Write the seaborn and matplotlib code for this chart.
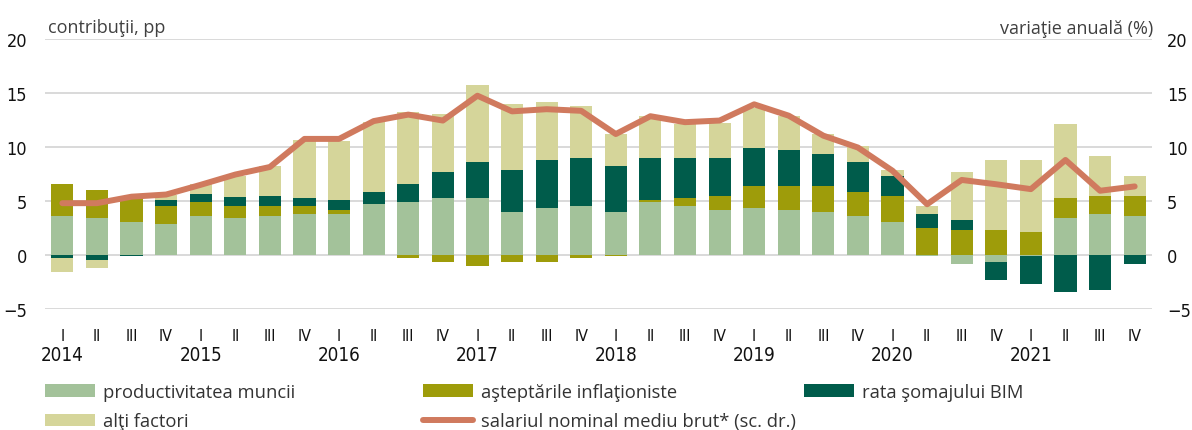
import numpy as np
import pandas as pd
import seaborn as sns
import matplotlib.pyplot as plt
from matplotlib import font_manager
from matplotlib.font_manager import FontProperties
from matplotlib.patches import Patch
from matplotlib.lines import Line2D

# quarterly data 2014 Q1 - 2021 Q4
years = ['2014', '2015', '2016', '2017', '2018', '2019', '2020', '2021']
quarters = ['I', 'II', 'III', 'IV']

productivitate = [3.6, 3.4, 3.05, 2.85, 3.6, 3.4, 3.6, 3.8, 3.8, 4.7, 4.9, 5.3, 5.3, 4.0, 4.35, 4.55,
                  4.0, 4.9, 4.55, 4.15, 4.35, 4.15, 4.0, 3.6, 3.05, -0.1, -0.85, -0.65, -0.1, 3.45, 3.8, 3.6]
inflatie = [2.95, 2.6, 2.2, 1.7, 1.3, 1.1, 0.95, 0.75, 0.35, 0.0, -0.3, -0.65, -1.0, -0.65, -0.65, -0.3,
            -0.1, 0.2, 0.75, 1.3, 2.05, 2.2, 2.4, 2.2, 2.4, 2.5, 2.3, 2.3, 2.15, 1.85, 1.65, 1.85]
somaj = [-0.3, -0.45, -0.1, 0.55, 0.75, 0.9, 0.9, 0.75, 0.9, 1.1, 1.65, 2.4, 3.35, 3.9, 4.45, 4.45,
         4.25, 3.9, 3.7, 3.5, 3.5, 3.35, 2.95, 2.8, 1.85, 1.3, 0.9, -1.65, -2.6, -3.45, -3.25, -0.85]
alti = [-1.3, -0.75, 0.0, 0.45, 0.9, 1.9, 2.8, 5.35, 5.55, 6.5, 6.7, 5.35, 7.05, 6.1, 5.35, 4.8,
        2.95, 3.9, 3.15, 3.3, 3.7, 3.15, 1.85, 1.5, 0.55, 0.75, 4.45, 6.5, 6.65, 6.85, 3.7, 1.85]
salariu = [4.8, 4.8, 5.4, 5.6, 6.5, 7.45, 8.15, 10.75, 10.75, 12.4, 13.0, 12.45, 14.75, 13.3, 13.5, 13.35,
           11.2, 12.85, 12.3, 12.45, 13.95, 12.9, 11.05, 9.95, 7.8, 4.7, 6.95, 6.55, 6.1, 8.8, 5.95, 6.35]

# look for a narrow face for the axis numbers, otherwise smaller DejaVu
narrow_file = None
for f in font_manager.fontManager.ttflist:
    tag = (f.name + ' ' + f.fname).lower()
    if (('condensed' in tag or 'narrow' in tag or f.stretch in ('condensed', 'semi-condensed'))
            and f.style == 'normal' and f.weight in (400, 'normal', 'regular')):
        narrow_file = f.fname
        break
if narrow_file:
    nfp = FontProperties(fname=narrow_file)
    tick_size, roman_size = 13, 11.5
else:
    nfp = FontProperties(family='DejaVu Sans')
    tick_size, roman_size = 12, 10

plt.rcParams['font.family'] = ['Open Sans', 'DejaVu Sans']

series = ['productivitatea muncii', 'aşteptările inflaţioniste', 'rata şomajului BIM', 'alţi factori']
colors = ['#a3c29a', '#9e9c0a', '#005c4b', '#d5d59a']
line_color = '#d07a5e'

labels = [f'{y} {q}' for y in years for q in quarters]
df = pd.DataFrame({'q': labels, series[0]: productivitate, series[1]: inflatie,
                   series[2]: somaj, series[3]: alti})

vals = df[series].to_numpy()
pos = np.cumsum(np.clip(vals, 0, None), axis=1)
neg = np.cumsum(np.clip(vals, None, 0), axis=1)

fig = plt.figure(figsize=(11.92, 4.31), dpi=100)
ax = fig.add_axes([0.0378, 0.2807, 0.9286, 0.6265])

# overlapping cumulative bars, outermost first
for i in range(3, -1, -1):
    sns.barplot(x=df['q'], y=pos[:, i], color=colors[i], width=0.64, linewidth=0,
                saturation=1, ax=ax, zorder=2)
    sns.barplot(x=df['q'], y=neg[:, i], color=colors[i], width=0.64, linewidth=0,
                saturation=1, ax=ax, zorder=2)

ax2 = ax.twinx()
sns.lineplot(x=np.arange(len(labels)), y=salariu, color=line_color, linewidth=4.3,
             solid_capstyle='round', solid_joinstyle='round', ax=ax2)

for a in (ax, ax2):
    a.set_ylim(-5, 20)
    a.set_yticks([-5, 0, 5, 10, 15, 20])
    a.set_xlim(-0.5, len(labels) - 0.5)
    a.set_ylabel('')
    a.set_xlabel('')
    for s in a.spines.values():
        s.set_visible(False)

ax.yaxis.grid(True, color='#d9d9d9', linewidth=1.4, zorder=0)
ax.set_axisbelow(True)
ax.tick_params(axis='y', length=0, pad=13, labelcolor='#111111')
ax2.tick_params(axis='y', length=0, pad=11, labelcolor='#111111')
for t in ax.get_yticklabels() + ax2.get_yticklabels():
    t.set_fontproperties(nfp)
    t.set_fontsize(tick_size)

ax.set_xticks(np.arange(len(labels)))
ax.set_xticklabels(quarters * len(years))
for t in ax.get_xticklabels():
    t.set_fontproperties(nfp)
    t.set_fontsize(roman_size)
ax.tick_params(axis='x', length=0, pad=14, labelcolor='#111111')

for k, y in enumerate(years):
    ax.text(k * 4, -0.17, y, transform=ax.get_xaxis_transform(), ha='center', va='center',
            fontproperties=nfp, fontsize=tick_size + 0.5, color='#111111')

fig.text(48 / 1192, 1 - 33 / 431, 'contribuţii, pp', fontsize=13, color='#404040', va='baseline')
fig.text(1153 / 1192, 1 - 34 / 431, 'variaţie anuală (%)', fontsize=13, color='#404040',
         va='baseline', ha='right')

h = [Patch(color=c, linewidth=0) for c in colors]
hl = Line2D([], [], color=line_color, linewidth=4.3, solid_capstyle='round')
leg_cols = [
    (45, [h[0], h[3]], [series[0], series[3]]),
    (423, [h[1], hl], [series[1], 'salariul nominal mediu brut* (sc. dr.)']),
    (804, [h[2]], [series[2]]),
]
for x0, hh, ll in leg_cols:
    leg = fig.legend(hh, ll, loc='upper left', bbox_to_anchor=(x0 / 1192, 1 - 384 / 431),
                     frameon=False, fontsize=13.2, handlelength=2.75, handleheight=0.7,
                     handletextpad=0.4, labelspacing=0.62, borderpad=0, borderaxespad=0)
    for t in leg.get_texts():
        t.set_color('#333333')

fig.savefig('out.png', dpi=100)
